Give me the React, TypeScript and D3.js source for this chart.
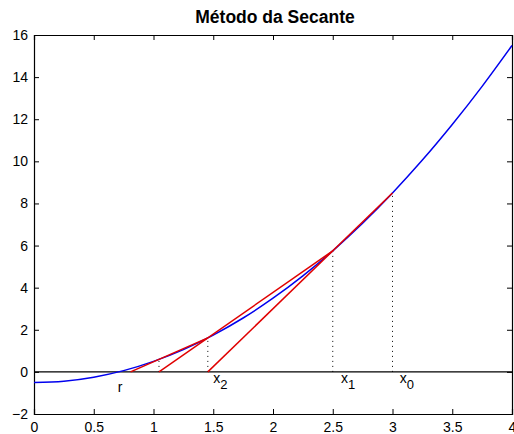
import { useEffect, useRef } from "react"
import * as d3 from "d3"

// curva f(x)
const curveX = [0, 0.25, 0.5, 0.75, 1, 1.25, 1.5, 1.75, 2, 2.25, 2.5, 2.75, 3, 3.25, 3.5, 3.75, 4]
const curveY = [-0.5, -0.44, -0.25, 0.06, 0.5, 1.06, 1.75, 2.56, 3.5, 4.56, 5.75, 7.06, 8.5, 10.06, 11.75, 13.56, 15.5]

// secantes: inicio no eixo, fim sobre a curva
const secStartX = [0.808, 1.046, 1.4545]
const secEndX = [1.4545, 2.5, 3]
const secEndY = [1.616, 5.75, 8.5]

// linhas pontilhadas verticais
const dotX = [1.046, 1.4545, 2.5, 3]
const dotY = [0.594, 1.616, 5.75, 8.5]

const labels = [
    { name: "r", sub: "", x: 0.7, y: -0.95 },
    { name: "x", sub: "2", x: 1.5, y: -0.55 },
    { name: "x", sub: "1", x: 2.57, y: -0.55 },
    { name: "x", sub: "0", x: 3.06, y: -0.55 },
]

const xTicks = [0, 0.5, 1, 1.5, 2, 2.5, 3, 3.5, 4]
const yTicks = [-2, 0, 2, 4, 6, 8, 10, 12, 14, 16]

export default function App() {
    const ref = useRef<SVGSVGElement>(null)

    useEffect(() => {
        const margin = { top: 35, left: 34, bottom: 20, right: 2 }
        const width = 514 - margin.left - margin.right
        const height = 434 - margin.top - margin.bottom
        const font = "'Liberation Sans', Arial, sans-serif"

        const root = d3.select(ref.current)
        root.selectAll("*").remove()

        const svg = root.append("g").attr("transform", `translate(${margin.left}, ${margin.top})`)

        const xScale = d3.scaleLinear().domain([0, 4]).range([0, width])
        const yScale = d3.scaleLinear().domain([-2, 16]).range([height, 0])

        // eixos estilo matlab: ticks para dentro
        const xAxis = d3.axisBottom(xScale).tickValues(xTicks).tickSize(-5).tickPadding(8).tickFormat(d3.format("~g"))
        const yAxis = d3.axisLeft(yScale).tickValues(yTicks).tickSize(-5).tickPadding(6)

        svg.append("g").attr("transform", `translate(0, ${height})`).call(xAxis)
        svg.append("g").call(yAxis)
        svg.append("g").call(d3.axisTop(xScale).tickValues(xTicks).tickSize(-5).tickFormat(() => ""))
        svg.append("g").attr("transform", `translate(${width}, 0)`).call(d3.axisRight(yScale).tickValues(yTicks).tickSize(-5).tickFormat(() => ""))

        svg.selectAll(".domain").attr("stroke", "black").attr("stroke-width", 1.2)
        svg.selectAll(".tick line").attr("stroke", "black")
        svg.selectAll(".tick text")
            .attr("fill", "black")
            .style("font-family", font)
            .style("font-size", "14px")

        // eixo y=0
        svg.append("line")
            .attr("x1", 0).attr("x2", width)
            .attr("y1", yScale(0)).attr("y2", yScale(0))
            .attr("stroke", "black").attr("stroke-width", 1.2)

        // pontilhadas
        svg.selectAll(".dot-line")
            .data(dotX)
            .join("line")
            .attr("class", "dot-line")
            .attr("x1", (d) => xScale(d)).attr("x2", (d) => xScale(d))
            .attr("y1", yScale(0)).attr("y2", (d, i) => yScale(dotY[i]))
            .attr("stroke", "black").attr("stroke-width", 1)
            .attr("stroke-dasharray", "1 4")

        const plot = svg.append("g")

        const linePath = d3.line<[number, number]>()
            .x((d) => xScale(d[0]))
            .y((d) => yScale(d[1]))
            .curve(d3.curveNatural)

        plot.append("path")
            .attr("fill", "none")
            .attr("stroke", "#0000ee")
            .attr("stroke-width", 1.5)
            .attr("d", linePath(curveX.map((x, i) => [x, curveY[i]] as [number, number])))

        plot.selectAll(".secant")
            .data(secStartX)
            .join("line")
            .attr("class", "secant")
            .attr("x1", (d) => xScale(d)).attr("y1", yScale(0))
            .attr("x2", (d, i) => xScale(secEndX[i])).attr("y2", (d, i) => yScale(secEndY[i]))
            .attr("stroke", "#e00000").attr("stroke-width", 1.5)

        const lab = svg.selectAll(".lab")
            .data(labels)
            .join("text")
            .attr("class", "lab")
            .attr("x", (d) => xScale(d.x))
            .attr("y", (d) => yScale(d.y))
            .style("font-family", font)
            .style("font-size", "14px")
            .attr("fill", "black")
        lab.append("tspan").text((d) => d.name)
        lab.append("tspan")
            .attr("dy", 6)
            .attr("fill", "black")
            .style("font-size", "13px")
            .text((d) => d.sub)

        root.append("text")
            .attr("x", margin.left + width / 2 + 2)
            .attr("y", 23)
            .attr("text-anchor", "middle")
            .style("font-family", font)
            .style("font-size", "17.5px")
            .style("font-weight", "bold")
            .text("Método da Secante")
    }, [])

    return (
        <svg ref={ref} width={514} height={434}
            style={{ position: "absolute", left: 0, top: 0, background: "white" }} />
    )
}
